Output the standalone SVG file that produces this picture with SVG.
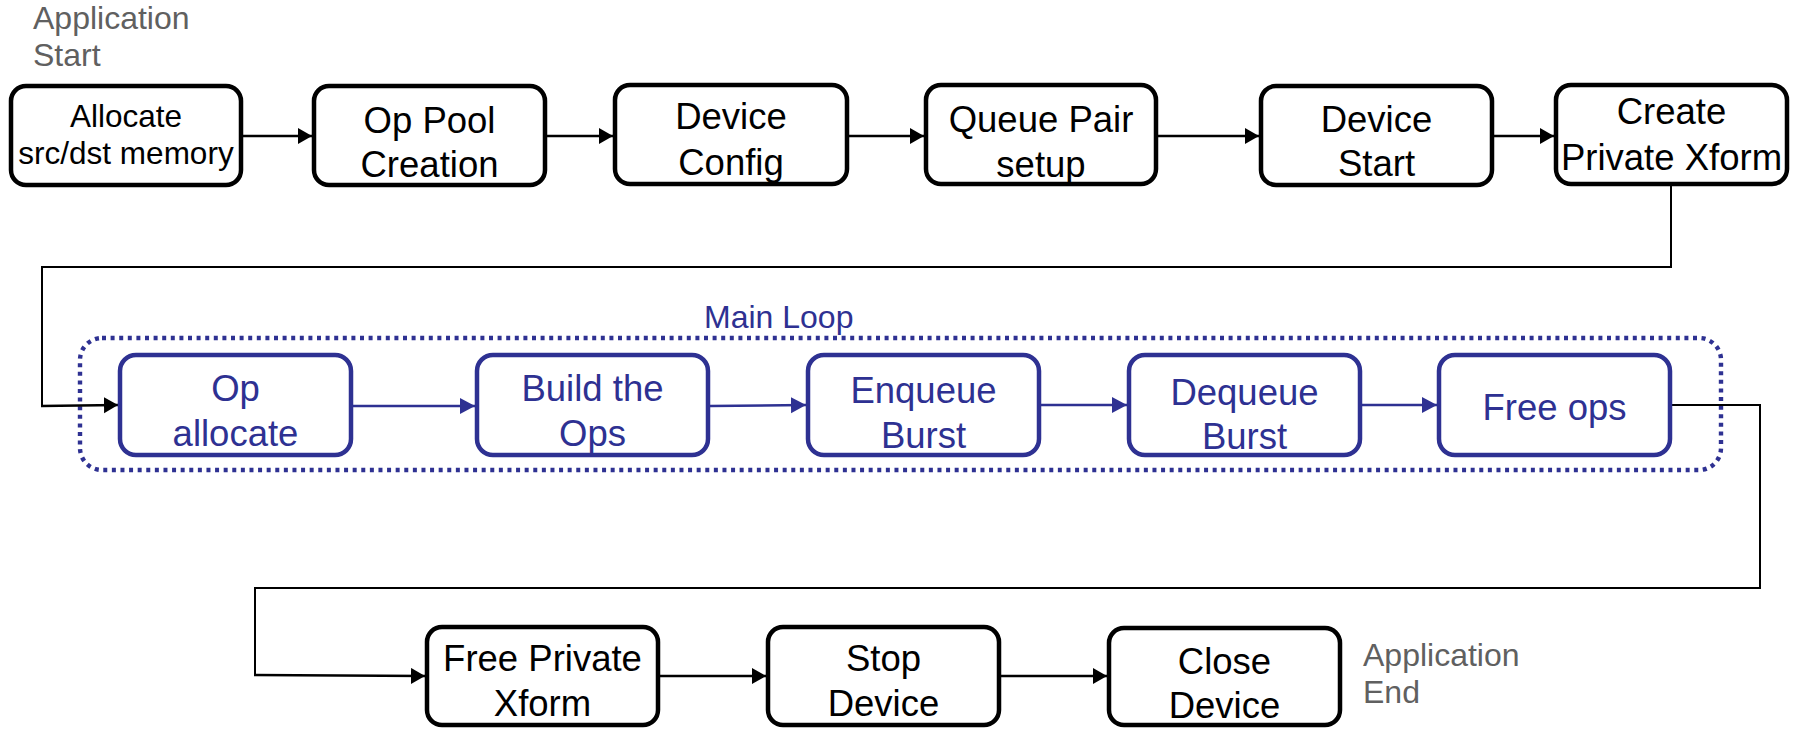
<svg xmlns="http://www.w3.org/2000/svg" width="1798" height="729" viewBox="0 0 1798 729">
  <style>
    .box { fill: #ffffff; stroke: #000000; stroke-width: 4.5; }
    .bbox { fill: #ffffff; stroke: #2E3192; stroke-width: 4.5; }
    .t { font-family: "Liberation Sans", Arial, sans-serif; font-size: 36.5px; fill: #000000; text-anchor: middle; }
    .tb { font-family: "Liberation Sans", Arial, sans-serif; font-size: 36.5px; fill: #2E3192; text-anchor: middle; }
    .ts { font-family: "Liberation Sans", Arial, sans-serif; font-size: 31.5px; fill: #000000; text-anchor: middle; }
    .note { font-family: "Liberation Sans", Arial, sans-serif; font-size: 32px; fill: #606060; }
    .loop { font-family: "Liberation Sans", Arial, sans-serif; font-size: 32px; fill: #2E3192; }
    .arrow { fill: none; stroke: #000000; stroke-width: 2.5; marker-end: url(#ah); }
    .barrow { fill: none; stroke: #2E3192; stroke-width: 2.5; marker-end: url(#ahb); }
    .link { fill: none; stroke: #000000; stroke-width: 2; stroke-linejoin: miter; }
    .frame { fill: none; stroke: #2E3192; stroke-width: 4.4; stroke-dasharray: 4 4.6; }
  </style>
  <defs>
    <marker id="ah" markerUnits="userSpaceOnUse" markerWidth="16" markerHeight="17" refX="14" refY="8" orient="auto">
      <path d="M0,0 L14,8 L0,16 z" fill="#000000"/>
    </marker>
    <marker id="ahb" markerUnits="userSpaceOnUse" markerWidth="16" markerHeight="17" refX="15" refY="8" orient="auto">
      <path d="M0,0 L15,8 L0,16 z" fill="#2E3192"/>
    </marker>
  </defs>

  <rect width="1798" height="729" fill="#ffffff"/>

  <!-- start / end notes -->
  <g id="app-start">
    <text class="note" x="33" y="29">Application</text>
    <text class="note" x="33" y="66">Start</text>
  </g>
  <g id="app-end">
    <text class="note" x="1363" y="666">Application</text>
    <text class="note" x="1363" y="703">End</text>
  </g>

  <!-- main loop frame -->
  <g id="main-loop">
    <rect class="frame" x="80" y="338" width="1641" height="132" rx="22" ry="22"/>
    <text class="loop" x="704" y="328">Main Loop</text>
  </g>

  <!-- connectors -->
  <g id="connectors">
    <line class="arrow" x1="243" y1="136" x2="312" y2="136"/>
    <line class="arrow" x1="547" y1="136" x2="613" y2="136"/>
    <line class="arrow" x1="849" y1="136" x2="924" y2="136"/>
    <line class="arrow" x1="1158" y1="136" x2="1259" y2="136"/>
    <line class="arrow" x1="1494" y1="136" x2="1554" y2="136"/>

    <path class="link" d="M1671,186 V267 H42 V406"/>
    <line class="arrow" x1="41" y1="406" x2="118" y2="405"/>

    <line class="barrow" x1="353" y1="406" x2="475" y2="406"/>
    <line class="barrow" x1="710" y1="406" x2="806" y2="405"/>
    <line class="barrow" x1="1041" y1="405" x2="1127" y2="405"/>
    <line class="barrow" x1="1362" y1="405" x2="1437" y2="405"/>

    <path class="link" d="M1672,405 H1760 V588 H255 V675"/>
    <line class="arrow" x1="254" y1="675" x2="425" y2="676"/>

    <line class="arrow" x1="660" y1="676" x2="766" y2="676"/>
    <line class="arrow" x1="1001" y1="676" x2="1107" y2="676"/>
  </g>

  <!-- setup row -->
  <g id="allocate-mem">
    <rect class="box" x="11" y="86" width="230" height="99" rx="15"/>
    <text class="ts" x="126" y="127">Allocate</text>
    <text class="ts" x="126" y="164">src/dst memory</text>
  </g>
  <g id="op-pool">
    <rect class="box" x="314" y="86" width="231" height="99" rx="15"/>
    <text class="t" x="429.5" y="133">Op Pool</text>
    <text class="t" x="429.5" y="177">Creation</text>
  </g>
  <g id="device-config">
    <rect class="box" x="615" y="85" width="232" height="99" rx="15"/>
    <text class="t" x="731" y="129">Device</text>
    <text class="t" x="731" y="175">Config</text>
  </g>
  <g id="queue-pair">
    <rect class="box" x="926" y="85" width="230" height="99" rx="15"/>
    <text class="t" x="1041" y="132">Queue Pair</text>
    <text class="t" x="1041" y="177">setup</text>
  </g>
  <g id="device-start">
    <rect class="box" x="1261" y="86" width="231" height="99" rx="15"/>
    <text class="t" x="1376.5" y="132">Device</text>
    <text class="t" x="1376.5" y="176">Start</text>
  </g>
  <g id="create-xform">
    <rect class="box" x="1556" y="85" width="231" height="99" rx="15"/>
    <text class="t" x="1671.5" y="124">Create</text>
    <text class="t" x="1671.5" y="170">Private Xform</text>
  </g>

  <!-- loop row -->
  <g id="op-allocate">
    <rect class="bbox" x="120" y="355" width="231" height="100" rx="16"/>
    <text class="tb" x="235.5" y="401">Op</text>
    <text class="tb" x="235.5" y="446">allocate</text>
  </g>
  <g id="build-ops">
    <rect class="bbox" x="477" y="355" width="231" height="100" rx="16"/>
    <text class="tb" x="592.5" y="401">Build the</text>
    <text class="tb" x="592.5" y="446">Ops</text>
  </g>
  <g id="enqueue-burst">
    <rect class="bbox" x="808" y="355" width="231" height="100" rx="16"/>
    <text class="tb" x="923.5" y="403">Enqueue</text>
    <text class="tb" x="923.5" y="448">Burst</text>
  </g>
  <g id="dequeue-burst">
    <rect class="bbox" x="1129" y="355" width="231" height="100" rx="16"/>
    <text class="tb" x="1244.5" y="405">Dequeue</text>
    <text class="tb" x="1244.5" y="449">Burst</text>
  </g>
  <g id="free-ops">
    <rect class="bbox" x="1439" y="355" width="231" height="100" rx="16"/>
    <text class="tb" x="1554.5" y="420">Free ops</text>
  </g>

  <!-- teardown row -->
  <g id="free-xform">
    <rect class="box" x="427" y="627" width="231" height="98" rx="15"/>
    <text class="t" x="542.5" y="671">Free Private</text>
    <text class="t" x="542.5" y="716">Xform</text>
  </g>
  <g id="stop-device">
    <rect class="box" x="768" y="627" width="231" height="98" rx="15"/>
    <text class="t" x="883.5" y="671">Stop</text>
    <text class="t" x="883.5" y="716">Device</text>
  </g>
  <g id="close-device">
    <rect class="box" x="1109" y="628" width="231" height="97" rx="15"/>
    <text class="t" x="1224.5" y="674">Close</text>
    <text class="t" x="1224.5" y="718">Device</text>
  </g>
</svg>
